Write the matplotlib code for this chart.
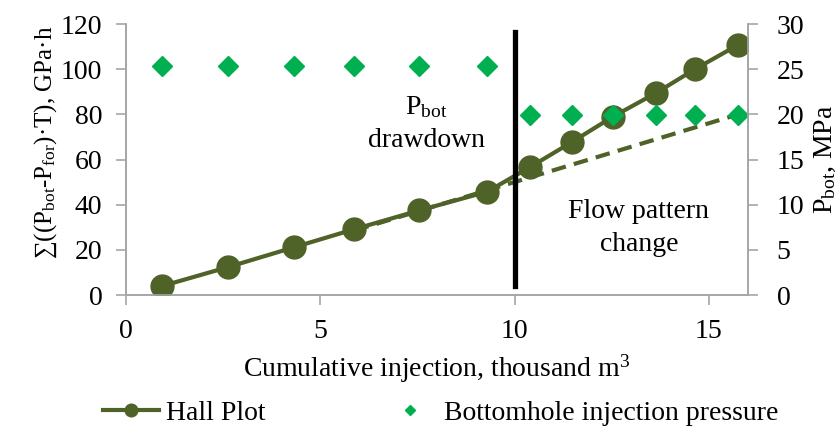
import matplotlib
matplotlib.use("Agg")
from matplotlib import pyplot as plt

# data
inj = [0.93, 2.63, 4.33, 5.88, 7.55, 9.3, 10.41, 11.47, 12.53, 13.63, 14.64, 15.75]
hall = [4.0, 12.4, 21.2, 29.2, 37.5, 45.8, 56.8, 67.7, 79.0, 89.4, 100.0, 110.8]
pbot = [25.4, 25.4, 25.4, 25.4, 25.4, 25.4, 19.9, 19.9, 19.9, 19.9, 19.9, 19.9]
trend_x = [5.88, 15.75]
trend_y = [28.6, 80.0]
split_x = 10
split_y = [4, 116.5]

plt.rcParams['font.family'] = ['Liberation Serif', 'DejaVu Serif']
plt.rcParams['mathtext.fontset'] = 'custom'
plt.rcParams['mathtext.rm'] = 'Liberation Serif'
plt.rcParams['mathtext.it'] = 'Liberation Serif:italic'
plt.rcParams['font.size'] = 20

olive = '#4f6228'
green = '#00b050'
grey = '#a6a6a6'

fig = plt.figure(figsize=(8.4, 4.32), dpi=100)
ax = fig.add_axes([0.15, 0.317, 0.74, 0.627])
ax2 = ax.twinx()

# trend and Hall plot
ax.plot(trend_x, trend_y, color=olive, lw=3, ls=(0, (3.5, 2)), zorder=2)
hall_line, = ax.plot(inj, hall, color=olive, lw=3, marker='o', ms=16.5,
                     label='Hall Plot', zorder=3)
ax.plot([split_x, split_x], split_y, color='black', lw=3.8, zorder=4)

dots, = ax2.plot(inj, pbot, ls='none', marker='D', ms=10, color=green,
                 label='Bottomhole injection pressure')

ax.set_xlim(0, 16)
ax.set_ylim(0, 120)
ax2.set_ylim(0, 30)
ax.set_xticks([0, 5, 10, 15])
ax.set_yticks(range(0, 121, 20))
ax2.set_yticks(range(0, 31, 5))

for a in (ax, ax2):
    a.spines['top'].set_visible(False)
    for s in ('left', 'right', 'bottom'):
        a.spines[s].set_color(grey)
        a.spines[s].set_linewidth(1.2)
    a.tick_params(colors=grey, labelcolor='black', length=7, width=1.2, pad=10)
ax2.tick_params(axis='y', pad=14)

ax.set_xlabel('Cumulative injection, thousand m$^3$', labelpad=6.5)
ax.set_ylabel('∑((P$_\\mathrm{bot}$-P$_\\mathrm{for}$)·T), GPa·h', fontsize=18)
ax.yaxis.set_label_coords(-0.107, 0.565)
ax2.set_ylabel('P$_\\mathrm{bot}$, MPa')
ax2.yaxis.set_label_coords(1.105, 0.5)

ax.text(7.73, 76, 'P$_\\mathrm{bot}$\ndrawdown', ha='center', va='center',
        linespacing=1.4)
ax.text(13.2, 29.6, 'Flow pattern\nchange', ha='center', va='center',
        linespacing=1.4)

fig.legend([hall_line, dots], ['Hall Plot', 'Bottomhole injection pressure'],
           loc='center', bbox_to_anchor=(0.525, 0.044), ncol=2, frameon=False,
           handlelength=2.0, handletextpad=0.25, columnspacing=4.2,
           markerscale=0.55)

fig.savefig('out.png', dpi=100)
